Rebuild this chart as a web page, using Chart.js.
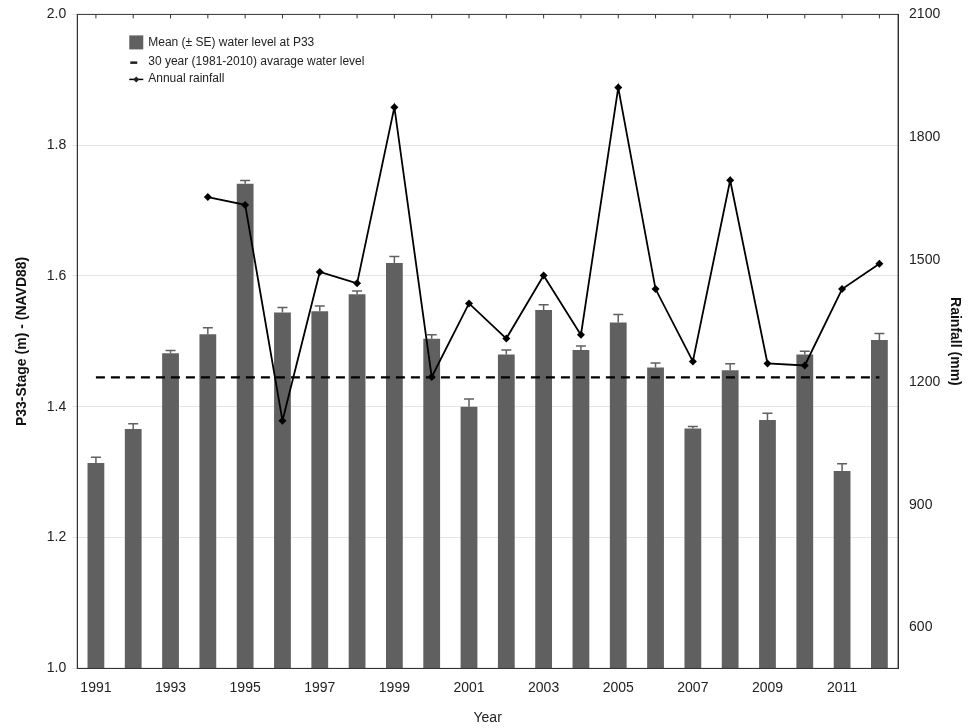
<!DOCTYPE html>
<html><head><meta charset="utf-8">
<script src="https://cdn.jsdelivr.net/npm/chart.js@4"></script>
<style>html,body{margin:0;background:#fff}</style>
</head><body><canvas id="c" width="974" height="728"></canvas>
<script>
const years=['1991','1992','1993','1994','1995','1996','1997','1998','1999','2000','2001','2002','2003','2004','2005','2006','2007','2008','2009','2010','2011','2012'];
const stage=[1.314,1.366,1.482,1.511,1.741,1.544,1.546,1.572,1.620,1.504,1.400,1.480,1.548,1.487,1.529,1.460,1.367,1.456,1.380,1.480,1.302,1.502];
const stageSE=[0.009,0.008,0.004,0.01,0.005,0.008,0.008,0.005,0.01,0.006,0.012,0.007,0.008,0.006,0.012,0.007,0.003,0.01,0.01,0.005,0.011,0.01];
const avgLevel=1.445;
const rainfall=[null,null,null,1653,1634,1106,1470,1442,1873,1213,1393,1307,1461,1316,1921,1428,1251,1694,1246,1241,1428,1490];
const rightTicks=[600,900,1200,1500,1800,2100];
const F='"Liberation Sans", Arial, sans-serif';
const errPlugin={id:'err',afterDatasetsDraw(ch){
  const ctx=ch.ctx,y=ch.scales.y,meta=ch.getDatasetMeta(0);
  ctx.save();ctx.strokeStyle='#606060';ctx.lineWidth=1.5;
  meta.data.forEach((b,i)=>{const t=y.getPixelForValue(stage[i]+stageSE[i]);
    ctx.beginPath();ctx.moveTo(b.x,b.y);ctx.lineTo(b.x,t);ctx.moveTo(b.x-5,t);ctx.lineTo(b.x+5,t);ctx.stroke();});
  const a=ch.chartArea,lx=a.left+52,ly=a.top+28;
  ctx.font='12px '+F;ctx.textBaseline='middle';
  ctx.fillStyle='#606060';ctx.fillRect(lx,ly-7,14,14);
  ctx.fillStyle='#222';ctx.fillText('Mean (\u00B1 SE) water level at P33',lx+19,ly);
  ctx.fillRect(lx+1,ly+19,7,2.5);ctx.fillText('30 year (1981-2010) avarage water level',lx+19,ly+19);
  ctx.beginPath();ctx.strokeStyle='#000';ctx.lineWidth=1.5;ctx.moveTo(lx,ly+37);ctx.lineTo(lx+14,ly+37);ctx.stroke();
  ctx.beginPath();ctx.moveTo(lx+7,ly+34);ctx.lineTo(lx+10,ly+37);ctx.lineTo(lx+7,ly+40);ctx.lineTo(lx+4,ly+37);ctx.closePath();ctx.fill();
  ctx.fillText('Annual rainfall',lx+19,ly+36);
  ctx.strokeStyle='#333';ctx.lineWidth=1;ctx.strokeRect(a.left,a.top,a.right-a.left,a.bottom-a.top);
  ch.scales.x.ticks.forEach((t,i)=>{const x=ch.scales.x.getPixelForTick(i);ctx.beginPath();ctx.moveTo(x,a.top);ctx.lineTo(x,a.top+4);ctx.stroke();});
  ctx.restore();}};
new Chart(document.getElementById('c'),{
  data:{labels:years,datasets:[
    {type:'bar',data:stage,backgroundColor:'#606060',yAxisID:'y',categoryPercentage:0.45,barPercentage:1,order:3},
    {type:'line',data:years.map(()=>avgLevel),borderColor:'#000',borderWidth:2.2,borderDash:[9,6],pointRadius:0,yAxisID:'y',order:2},
    {type:'line',data:rainfall,borderColor:'#000',borderWidth:1.8,pointStyle:'rectRot',pointRadius:4,pointBackgroundColor:'#000',pointBorderWidth:0,yAxisID:'y2',tension:0,order:1}
  ]},
  options:{responsive:false,animation:false,devicePixelRatio:1,
    layout:{padding:{left:14,right:7,top:8,bottom:1}},
    plugins:{legend:{display:false},tooltip:{enabled:false}},
    scales:{
      x:{grid:{display:false,drawTicks:true,tickLength:5},border:{color:'#333'},
        ticks:{autoSkip:false,maxRotation:0,color:'#222',font:{family:F,size:14},padding:6,callback:(v,i)=>i%2===0?years[i]:''},
        title:{display:true,text:'Year',color:'#222',font:{family:F,size:14},padding:{top:8,bottom:0}}},
      y:{position:'left',min:1.0,max:2.0,
        ticks:{stepSize:0.2,color:'#222',font:{family:F,size:14},padding:6,callback:v=>v.toFixed(1)},
        grid:{color:'#e4e4e4',tickLength:5},border:{color:'#333'},
        title:{display:true,text:'P33-Stage (m) - (NAVD88)',color:'#111',font:{family:F,size:14,weight:'bold'},padding:{top:0,bottom:10}}},
      y2:{position:'right',min:500,max:2100,
        afterBuildTicks:s=>{s.ticks=rightTicks.map(v=>({value:v}));},
        ticks:{color:'#222',font:{family:F,size:14},padding:6,callback:v=>String(v)},
        grid:{display:false,tickLength:5},border:{color:'#333'},
        title:{display:true,text:'Rainfall (mm)',color:'#111',font:{family:F,size:14,weight:'bold'},padding:{top:4,bottom:0}}}
    }},
  plugins:[errPlugin]
});
</script></body></html>
